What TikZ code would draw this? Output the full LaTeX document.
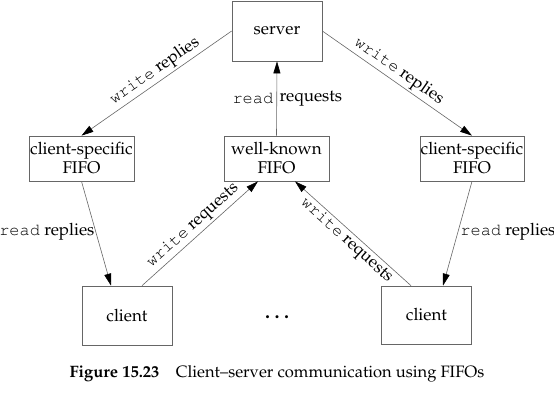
\documentclass[tikz,border=0pt]{standalone}
\usepackage[T1]{fontenc}
\renewcommand{\rmdefault}{ppl}
\renewcommand{\ttdefault}{pcr}
\usetikzlibrary{arrows.meta,calc}
\tikzset{
  box/.style={draw=black!60, line width=0.7pt, inner sep=0pt, align=center,
    font=\fontsize{17}{19}\selectfont},
  conn/.style={draw=black!60, line width=0.6pt,
    -{Triangle[length=12pt,width=7pt,color=black]}},
  lbl/.style={font=\fontsize{17}{19}\selectfont, inner sep=2pt},
}
\begin{document}
\begin{tikzpicture}[x=1pt,y=-1pt]
\useasboundingbox (0,0) rectangle (554,405);
\node[box, minimum width=90pt, minimum height=60pt] (server) at (277,31) {server};
\node[box, minimum width=105pt, minimum height=45pt] (lfifo) at (81.5,158.5) {client-specific\\FIFO};
\node[box, minimum width=105pt, minimum height=45pt] (wfifo) at (276.5,158.5) {well-known\\FIFO};
\node[box, minimum width=104pt, minimum height=45pt] (rfifo) at (472,158.5) {client-specific\\FIFO};
\node[box, minimum width=90pt, minimum height=59pt] (lclient) at (127,315.5) {client};
\node[box, minimum width=90pt, minimum height=58pt] (rclient) at (426.5,315) {client};
\node[lbl, font=\fontsize{20}{22}\selectfont\bfseries] (dots) at (277,317) {.\hspace{4.5pt}.\hspace{4.5pt}.};

\draw[conn] (server.west) -- node[lbl, sloped, above, pos=0.47] (wl) {\texttt{write} replies} (lfifo.north);
\draw[conn] (server.east) -- node[lbl, sloped, above, pos=0.47] (wr) {\texttt{write} replies} (rfifo.north);
\draw[conn] (wfifo.north) -- (server.south);
\node[lbl, anchor=east] (rq1) at ($(wfifo.north)+(-1,-37)$) {\texttt{read}};
\node[lbl, anchor=west] (rq2) at ($(wfifo.north)+(1,-37)$) {requests};
\draw[conn] (lfifo.south) -- node[lbl, left, inner sep=1pt, pos=0.48] (rl) {\texttt{read} replies} ([xshift=-16pt]lclient.north);
\draw[conn] (rfifo.south) -- node[lbl, right, pos=0.48] (rr) {\texttt{read} replies} ([xshift=16.5pt]rclient.north);
\draw[conn] ([xshift=15pt]lclient.north) -- node[lbl, sloped, above, pos=0.5] (ql) {\texttt{write} requests} ([xshift=-18.5pt]wfifo.south);
\draw[conn] ([xshift=-15.5pt]rclient.north) -- node[lbl, sloped, below, pos=0.5] (qr) {\texttt{write} requests} ([xshift=18.5pt]wfifo.south);
\node[lbl, font=\fontsize{16.5}{18}\selectfont] (cap) at (277,374) {\textbf{Figure 15.23}\hspace{1em}Client--server communication using FIFOs};
\end{tikzpicture}
\end{document}
